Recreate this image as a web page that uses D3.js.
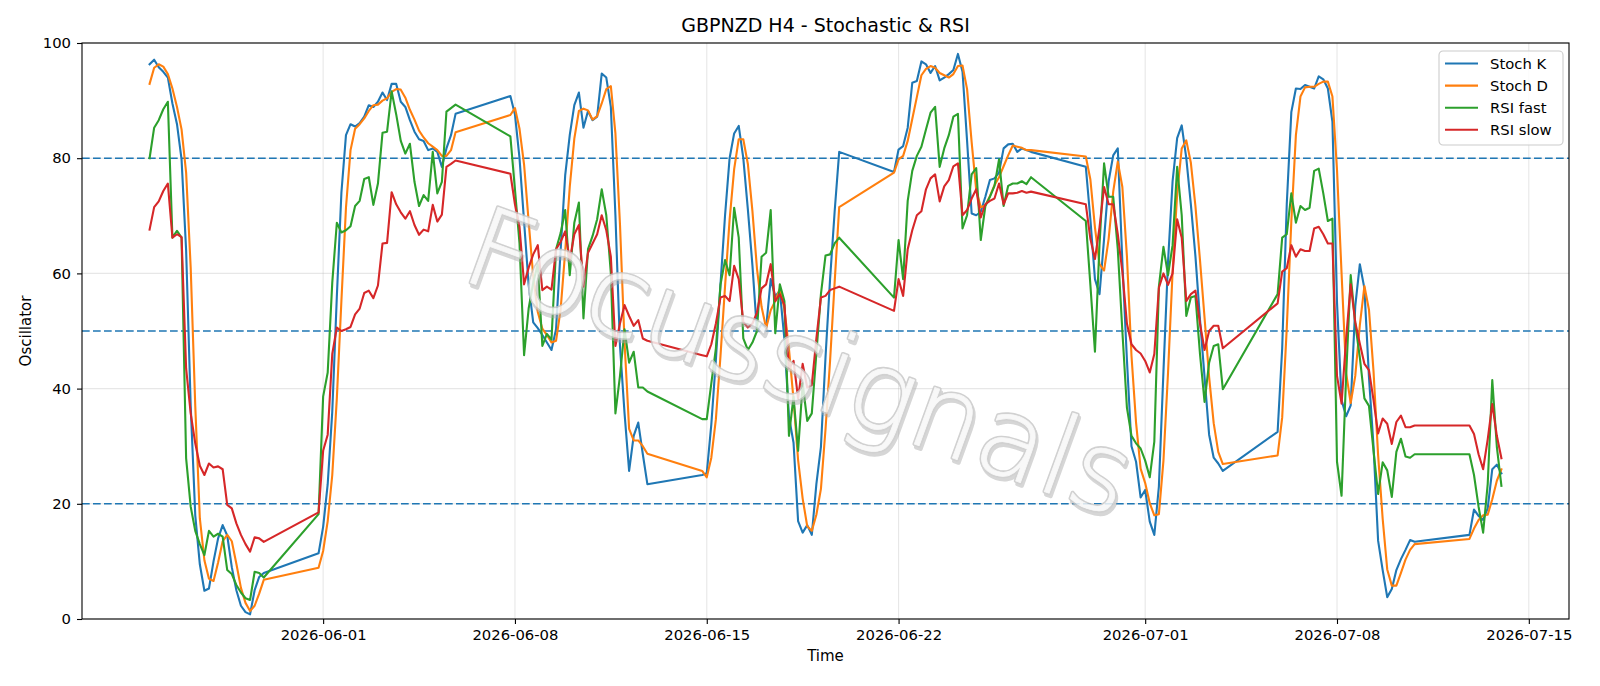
<!DOCTYPE html>
<html>
<head>
<meta charset="utf-8">
<script src="https://cdn.jsdelivr.net/npm/d3@7/dist/d3.min.js"></script>
<style>
body { margin: 0; background: #fff; }
text { font-family: "DejaVu Sans", sans-serif; fill: #000; }
</style>
</head>
<body>
<svg id="chart" width="1600" height="686"></svg>
<script>
// H4 sessions: first bar, number of bars
var sessions = [
	['2026-05-25T16:00', 26],
	['2026-05-31T20:00', 31],
	['2026-06-07T20:00', 31],
	['2026-06-14T20:00', 31],
	['2026-06-21T20:00', 31],
	['2026-06-28T20:00', 31],
	['2026-07-05T20:00', 31],
	['2026-07-12T20:00', 8]
];

var stoch_k = [
	96.3, 97.1, 95.8, 95.0, 94.0, 89.5, 85.9, 79.8, 64, 37, 18, 9.5, 4.9, 5.3, 10.0, 14.0, 16.3, 14.5, 9.0, 5.0, 2.3, 1.2, 0.8, 5.0, 7.3, 8.0,
	11.4, 16, 23.4, 36, 56, 74, 84, 85.9, 85.5, 86.1, 87.2, 89.2, 88.9, 89.8, 91.4, 90.1, 92.9, 92.9, 89.8, 88.9, 86.6, 84.6, 83.3, 83.0, 81.4, 81.7, 81.1, 78.5, 81.7, 84.0, 87.7,
	90.8, 87.6, 80, 69, 58, 51.5, 50.5, 49.3, 48.0, 46.7, 50.3, 64, 77, 84.0, 89.2, 91.4, 85.3, 88.2, 86.6, 87.2, 94.7, 94.0, 88.9, 70.1, 47.4, 35.7, 25.7, 31.8, 34.1, 28.6, 23.4,
	25.0, 25.3, 33.8, 45, 58, 70, 80, 84.3, 85.6, 80.0, 71.1, 61.4, 49.9, 51.2, 50.5, 59.0, 56.0, 57.0, 48.6, 35.1, 30.6, 17.0, 15.0, 16.3, 14.6, 23.4, 29.9, 45.4, 59.0, 70.7, 81.1,
	77.6, 81.5, 82.1, 85.3, 93.1, 93.4, 96.8, 96.3, 94.8, 96.0, 93.5, 94.0, 94.6, 95.3, 98.1, 95.0, 83.0, 70.4, 70.1, 70.7, 73.3, 76.2, 76.5, 77.5, 81.7, 82.4, 82.5, 81.1, 81.7, 81.4, 81.1,
	78.5, 69.4, 59.0, 56.4, 66, 76, 80.5, 81.7, 62, 45, 30, 27.3, 21.1, 22.4, 16.9, 14.6, 23, 43, 62, 76, 83.5, 85.7, 80.0, 72, 63, 52, 42, 32, 28, 27, 25.7,
	32.5, 47, 72, 88, 92.1, 92.0, 92.7, 92.4, 92.1, 94.2, 93.7, 92.1, 86.3, 55, 38, 35.2, 37.1, 54.3, 61.6, 57.4, 42, 30, 13.6, 8.5, 3.8, 5.2, 8.5, 10.4, 12.0, 13.7, 13.4,
	14.6, 19.0, 17.9, 17.2, 19.2, 26.0, 26.8, 25.3
];

var stoch_d = [
	92.9, 95.7, 96.3, 95.9, 94.6, 92.1, 88.9, 85.0, 77.5, 61, 37, 17.5, 10.2, 7.0, 6.6, 9.8, 13.5, 14.6, 13.5, 9.6, 5.4, 2.8, 1.4, 2.3, 4.4, 6.8,
	8.9, 11.8, 17, 25, 38.3, 55.2, 71.4, 81.4, 85.1, 85.9, 86.9, 88.2, 89.2, 89.3, 90.0, 90.4, 91.5, 92.0, 91.9, 90.5, 88.4, 86.7, 84.8, 83.6, 82.6, 82.0, 81.4, 80.4, 80.4, 81.4, 84.5,
	87.5, 88.7, 85.1, 78.9, 69, 59.5, 53.3, 50.4, 49.3, 48.0, 48.3, 53.7, 63.8, 75, 83.4, 88.2, 88.6, 88.3, 86.7, 87.3, 89.5, 92.0, 92.5, 84.3, 68.5, 48, 33, 31, 31, 30, 28.7,
	25.7, 24.6, 28.0, 34.7, 45.6, 57.7, 69.3, 78.1, 83.3, 83.3, 79.0, 70.8, 60.8, 54.2, 50.5, 53.6, 55.2, 57.3, 53.9, 46.9, 38.1, 27.6, 20.9, 16.1, 15.3, 18.1, 22.6, 32.9, 44.8, 58.4, 71.5,
	77.5, 79.8, 80.4, 83.0, 86.8, 90.6, 94.4, 95.5, 96.0, 95.7, 94.8, 94.4, 94.0, 94.6, 96.0, 96.1, 92.0, 82.8, 74.5, 71.5, 71.8, 73.4, 75.3, 76.7, 78.6, 80.5, 82.2, 82.0, 81.8, 81.4, 81.4,
	80.3, 76.3, 68, 61.6, 60.5, 66, 74.2, 79.4, 75, 63, 45.7, 34.1, 26.1, 23.6, 20.1, 18.0, 18.2, 27.5, 42.7, 60.3, 73.8, 81.7, 83.1, 79.2, 71.7, 62.3, 52.3, 42, 34, 29, 26.9,
	28.4, 35, 50.5, 69, 84, 90.7, 92.3, 92.4, 92.4, 92.9, 93.3, 93.3, 90.7, 78, 60, 42.7, 37.5, 42.2, 51, 57.8, 53.7, 43, 28.5, 17.4, 8.6, 5.8, 5.8, 8.0, 10.3, 12.0, 13.0,
	13.9, 15.7, 17.2, 18.0, 18.1, 20.8, 24.0, 26.0
];

var rsi_fast = [
	80.0, 85.3, 86.6, 88.5, 89.8, 66.2, 67.4, 66.2, 27.9, 19.5, 15.3, 13.0, 11.1, 15.3, 14.3, 14.8, 14.3, 8.5, 7.8, 5.9, 4.6, 3.6, 3.3, 8.2, 8.0, 7.2,
	18.2, 38.6, 42.8, 58.4, 68.8, 67.1, 67.5, 68.2, 71.7, 72.6, 76.4, 76.7, 71.9, 75.6, 84.4, 84.6, 91.6, 87.6, 83.0, 80.8, 82.5, 75.9, 71.7, 73.6, 72.6, 81.1, 73.9, 75.9, 88.1, 88.7, 89.3,
	83.8, 74.6, 65.2, 45.8, 53.9, 58.4, 61.6, 47.4, 49.5, 48.5, 64.2, 67.0, 71.0, 59.7, 68.8, 72.3, 52.2, 64.2, 66.5, 69.4, 74.6, 70.1, 60.0, 35.7, 42.2, 50.3, 44.5, 46.4, 40.2, 40.2, 39.5,
	34.7, 34.7, 40.9, 47.0, 58.0, 62.3, 59.7, 71.4, 66.2, 48.7, 46.7, 48.0, 50.0, 62.9, 63.6, 71.0, 49.6, 58.1, 55.2, 31.8, 38.6, 29.2, 40.9, 34.4, 35.7, 46.1, 56.4, 63.1, 63.3, 65.2, 66.2,
	55.8, 65.8, 59.0, 72.6, 77.8, 80.4, 82.0, 85.0, 87.9, 88.9, 78.5, 81.7, 84.0, 87.2, 87.7, 67.8, 70.1, 77.2, 78.3, 65.8, 71.7, 73.3, 75.2, 79.8, 71.7, 75.2, 75.6, 75.6, 76.0, 75.5, 76.7,
	69.1, 58, 46.4, 65, 79.1, 73.3, 73.3, 64.2, 50, 36.7, 31.8, 30.5, 29.6, 27.5, 24.6, 30.8, 57.7, 64.6, 59.7, 64.9, 78.5, 70.1, 52.6, 55.8, 56.1, 46, 37.7, 44.5, 47.4, 47.7, 39.9,
	56.4, 66.2, 66.8, 73.9, 68.8, 71.7, 71.0, 71.4, 77.8, 78.2, 73.9, 69.1, 69.5, 27.3, 21.4, 42.2, 59.7, 51.3, 45.4, 38.3, 37.0, 29.2, 21.7, 27.2, 25.8, 21.2, 29.0, 31.3, 28.2, 28.0, 28.6,
	28.6, 25.0, 19.5, 15.0, 23.4, 41.5, 29.9, 23.1
];

var rsi_slow = [
	67.6, 71.5, 72.5, 74.3, 75.6, 66.2, 66.8, 66.3, 43.5, 35.7, 30.5, 26.6, 25.0, 27.0, 26.3, 26.5, 26.0, 19.8, 19.2, 16.6, 14.6, 13.0, 11.7, 14.2, 14.0, 13.4,
	18.5, 29.2, 32.0, 46.0, 50.6, 50.0, 50.3, 50.7, 52.9, 53.9, 56.6, 57.0, 55.7, 57.9, 65.2, 65.3, 74.1, 72.0, 70.6, 69.5, 70.8, 68.4, 66.7, 67.6, 67.3, 71.9, 69.0, 70.2, 78.5, 79.0, 79.6,
	77.3, 72.0, 68.1, 58.1, 61.0, 63.3, 64.9, 57.1, 57.7, 57.2, 64.2, 65.5, 67.3, 62.3, 66.8, 68.4, 57.7, 63.6, 65.2, 66.8, 70.1, 67.5, 62.9, 47.4, 51.3, 54.5, 52.6, 50.9, 51.9, 48.7, 48.3,
	45.8, 45.6, 47.7, 51.3, 55.8, 56.1, 55.2, 61.3, 59.0, 51.6, 50.6, 51.3, 53.2, 57.4, 58.1, 61.6, 55.2, 56.4, 54.5, 43.5, 44.8, 38.3, 44.3, 40.2, 40.6, 48.7, 55.8, 56.1, 57.1, 57.4, 57.7,
	53.5, 59.0, 56.1, 64.2, 67.5, 70.1, 70.8, 74.6, 76.5, 77.2, 72.5, 75.1, 76.2, 78.6, 79.1, 70.1, 71.0, 73.0, 74.6, 69.7, 72.0, 72.6, 73.0, 75.6, 72.0, 73.9, 73.9, 74.0, 74.3, 74.0, 74.2,
	72.0, 66, 62.5, 68, 75, 72, 72, 66.8, 60.3, 51.3, 47.7, 46.7, 46.1, 44.8, 42.8, 46, 57.5, 60, 58, 60, 69.4, 66.2, 55.2, 56.4, 57.0, 51.3, 46.7, 50, 50.9, 50.9, 47,
	54.8, 60.3, 60.9, 64.9, 62.9, 64.2, 63.9, 63.9, 67.8, 68.1, 66.8, 65.2, 65.2, 42.2, 37.4, 48.7, 58.1, 51.5, 47.8, 44.3, 43.2, 38.0, 32.2, 34.8, 33.9, 30.4, 34.2, 35.3, 33.3, 33.3, 33.6,
	33.6, 32.1, 28.6, 26.0, 31.2, 37.3, 31.8, 27.9
];

var series_names = ['Stoch K', 'Stoch D', 'RSI fast', 'RSI slow'];
var series_colors = ['#1f77b4', '#ff7f0e', '#2ca02c', '#d62728'];
var levels = [20, 50, 80];
var y_ticks = [0, 20, 40, 60, 80, 100];
var x_ticks = ['2026-06-01', '2026-06-08', '2026-06-15', '2026-06-22', '2026-07-01', '2026-07-08', '2026-07-15'];

var W = 1600, H = 686;
var box = {left: 82, right: 1569, top: 43, bottom: 619};

var parse = d3.utcParse('%Y-%m-%dT%H:%M');
var parse_day = d3.utcParse('%Y-%m-%d');
var times = [];
sessions.forEach(function (s) {
	var start = parse(s[0]);
	for (var i = 0; i < s[1]; i++) times.push(d3.utcHour.offset(start, 4*i));
});

var values = [stoch_k, stoch_d, rsi_fast, rsi_slow];

// matplotlib style 5% margin on the time axis
var ext = d3.extent(times);
var pad = (ext[1] - ext[0]) * 0.05;
var x = d3.scaleUtc()
	.domain([new Date(+ext[0] - pad), new Date(+ext[1] + pad)])
	.range([box.left, box.right]);
var y = d3.scaleLinear().domain([0, 100]).range([box.bottom, box.top]);

var svg = d3.select('#chart');
svg.append('rect').attr('width', W).attr('height', H).attr('fill', '#fff');

svg.append('defs').append('clipPath').attr('id', 'plotclip')
	.append('rect')
	.attr('x', box.left).attr('y', box.top)
	.attr('width', box.right - box.left).attr('height', box.bottom - box.top);

var grid = svg.append('g');
grid.selectAll('.vg').data(x_ticks).enter().append('line')
	.attr('x1', function (d) { return x(parse_day(d)); })
	.attr('x2', function (d) { return x(parse_day(d)); })
	.attr('y1', box.top).attr('y2', box.bottom)
	.attr('stroke', '#b0b0b0').attr('stroke-opacity', 0.3).attr('stroke-width', 1.1);
grid.selectAll('.hg').data(y_ticks).enter().append('line')
	.attr('x1', box.left).attr('x2', box.right)
	.attr('y1', function (d) { return y(d); })
	.attr('y2', function (d) { return y(d); })
	.attr('stroke', '#b0b0b0').attr('stroke-opacity', 0.3).attr('stroke-width', 1.1);

var plot = svg.append('g').attr('clip-path', 'url(#plotclip)');

plot.selectAll('.level').data(levels).enter().append('line')
	.attr('x1', box.left).attr('x2', box.right)
	.attr('y1', function (d) { return y(d); })
	.attr('y2', function (d) { return y(d); })
	.attr('stroke', '#1f77b4').attr('stroke-width', 1.6)
	.attr('stroke-dasharray', '7.7,3.3');

var line = d3.line()
	.x(function (d, i) { return x(times[i]); })
	.y(function (d) { return y(d); });

plot.selectAll('.series').data(values).enter().append('path')
	.attr('d', function (d) { return line(d); })
	.attr('fill', 'none')
	.attr('stroke', function (d, i) { return series_colors[i]; })
	.attr('stroke-width', 2.1)
	.attr('stroke-linejoin', 'round')
	.attr('stroke-linecap', 'square');

// watermark: thin outlined letters with a darker shadow
var wm = svg.append('g').attr('transform', 'translate(800,362) rotate(20)').style('opacity', 0.85);
var wm_layers = [
	{dx: 2.5, fill: '#a8a8a8', sw: 4, op: 0.55},
	{dx: 0, fill: '#c9c9c9', sw: 4, op: 1},
	{dx: 0, fill: '#f7f7f7', sw: 0.8, op: 1}
];
wm.selectAll('text').data(wm_layers).enter().append('text')
	.attr('x', function (d) { return d.dx; })
	.attr('y', function (d) { return d.dx; })
	.attr('text-anchor', 'middle').attr('dominant-baseline', 'central')
	.attr('textLength', 700).attr('lengthAdjust', 'spacing')
	.style('font-size', '110px').style('font-weight', 200)
	.style('fill', function (d) { return d.fill; })
	.style('stroke', function (d) { return d.fill; })
	.style('stroke-width', function (d) { return d.sw; })
	.style('stroke-linejoin', 'round')
	.style('opacity', function (d) { return d.op; })
	.text('Focussignals');

// axes
var xa = svg.append('g').attr('transform', 'translate(0,' + box.bottom + ')')
	.call(d3.axisBottom(x)
		.tickValues(x_ticks.map(parse_day))
		.tickFormat(d3.utcFormat('%Y-%m-%d'))
		.tickSize(5).tickPadding(5).tickSizeOuter(0));
var ya = svg.append('g').attr('transform', 'translate(' + box.left + ',0)')
	.call(d3.axisLeft(y).tickValues(y_ticks).tickSize(5).tickPadding(6).tickSizeOuter(0));

[xa, ya].forEach(function (a) {
	a.select('.domain').remove();
	a.selectAll('.tick line').attr('stroke', '#000').attr('stroke-width', 1.1);
	a.selectAll('.tick text').style('font-size', '14.8px').style('font-family', '"DejaVu Sans", sans-serif');
});

svg.append('rect')
	.attr('x', box.left).attr('y', box.top)
	.attr('width', box.right - box.left).attr('height', box.bottom - box.top)
	.attr('fill', 'none').attr('stroke', '#000').attr('stroke-width', 1.1);

svg.append('text').attr('x', (box.left + box.right)/2).attr('y', 32)
	.attr('text-anchor', 'middle').style('font-size', '19px')
	.text('GBPNZD H4 - Stochastic & RSI');
svg.append('text').attr('x', (box.left + box.right)/2).attr('y', 661)
	.attr('text-anchor', 'middle').style('font-size', '15px')
	.text('Time');
svg.append('text').attr('transform', 'translate(31,' + (box.top + box.bottom)/2 + ') rotate(-90)')
	.attr('text-anchor', 'middle').style('font-size', '15px')
	.text('Oscillator');

// legend
var lg = svg.append('g').attr('transform', 'translate(1439,51)');
lg.append('rect').attr('width', 124).attr('height', 94).attr('rx', 4)
	.attr('fill', '#fff').attr('fill-opacity', 0.8)
	.attr('stroke', '#cccccc').attr('stroke-width', 1.1);
var items = lg.selectAll('.item').data(series_names).enter().append('g')
	.attr('transform', function (d, i) { return 'translate(0,' + (12.5 + i*22.1) + ')'; });
items.append('line').attr('x1', 6).attr('x2', 39)
	.attr('stroke', function (d, i) { return series_colors[i]; })
	.attr('stroke-width', 2.1);
items.append('text').attr('x', 51).attr('dy', '0.36em')
	.style('font-size', '14.8px')
	.text(function (d) { return d; });
</script>
</body>
</html>
